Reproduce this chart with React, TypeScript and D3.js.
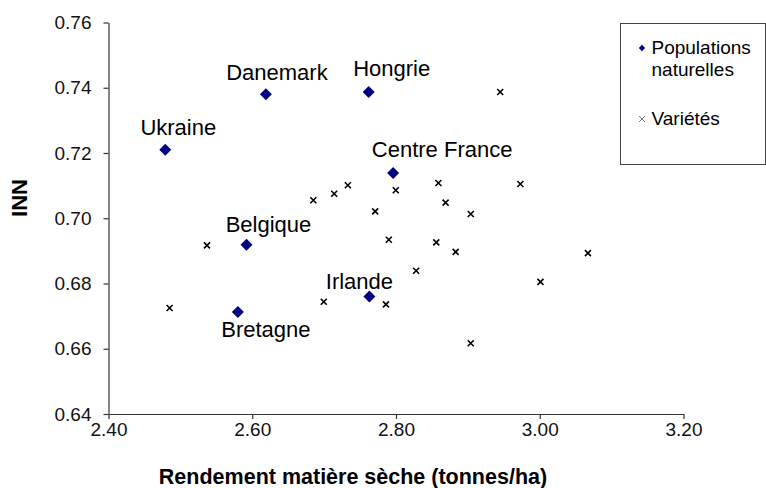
import React, { useEffect, useRef } from 'react';
import * as d3 from 'd3';

// populations naturelles
const popNames = ['Ukraine', 'Danemark', 'Hongrie', 'Centre France', 'Belgique', 'Bretagne', 'Irlande'];
const popRendement = [2.479, 2.619, 2.762, 2.796, 2.592, 2.58, 2.763];
const popINN = [0.721, 0.738, 0.7387, 0.7139, 0.6919, 0.6713, 0.676];

// variétés
const varRendement = [
  2.485, 2.537, 2.685, 2.6995, 2.714, 2.733, 2.771, 2.79, 2.7997, 2.786, 2.828,
  2.856, 2.859, 2.869, 2.883, 2.904, 2.904, 2.945, 2.973, 3.001, 3.067,
];
const varINN = [
  0.6725, 0.6917, 0.7055, 0.6744, 0.7075, 0.7101, 0.7021, 0.6934, 0.7086, 0.6736, 0.6839,
  0.6926, 0.7108, 0.7048, 0.6897, 0.7013, 0.6617, 0.7387, 0.7105, 0.6805, 0.6893,
];

const xTicks = [2.4, 2.6, 2.8, 3.0, 3.2];
const yTicks = [0.64, 0.66, 0.68, 0.7, 0.72, 0.74, 0.76];

const xTitle = 'Rendement matière sèche (tonnes/ha)';
const yTitle = 'INN';
const legendItems = [['Populations', 'naturelles'], ['Variétés']];

// where each label sits relative to its point (px)
const labelOffset: Record<string, [number, number]> = {
  Ukraine: [13, -15],
  Danemark: [11, -14],
  Hongrie: [23, -16],
  'Centre France': [49, -16],
  Belgique: [22, -13],
  Bretagne: [28, 25],
  Irlande: [-10, -8],
};

const FONT = '"Liberation Sans", Arial, sans-serif';
const NAVY = '#000080';

function App() {
  const ref = useRef<SVGSVGElement>(null);

  useEffect(() => {
    const svg = d3.select(ref.current);
    svg.selectAll('*').remove();

    const x = d3.scaleLinear().domain([2.4, 3.2]).range([108.5, 683.5]);
    const y = d3.scaleLinear().domain([0.64, 0.76]).range([414, 22.5]);

    const xAxis = svg
      .append('g')
      .attr('transform', `translate(0,${y(0.64)})`)
      .call(
        d3.axisBottom(x).tickValues(xTicks).tickFormat(d3.format('.2f')).tickSize(5).tickSizeOuter(0).tickPadding(4)
      );
    const yAxis = svg
      .append('g')
      .attr('transform', `translate(${x(2.4)},0)`)
      .call(
        d3.axisLeft(y).tickValues(yTicks).tickFormat(d3.format('.2f')).tickSize(5).tickSizeOuter(0).tickPadding(12)
      );

    [xAxis, yAxis].forEach((g) => {
      g.selectAll('path, line').attr('stroke', '#333').attr('stroke-width', 1.2);
      g.selectAll('text').attr('font-family', FONT).attr('font-size', 19).attr('fill', '#111');
    });

    // varietes
    svg
      .append('g')
      .selectAll('path')
      .data(varRendement)
      .enter()
      .append('path')
      .attr('transform', (d, i) => `translate(${x(d)},${y(varINN[i])})`)
      .attr('d', 'M-3,-3L3,3M-3,3L3,-3')
      .attr('stroke', '#000')
      .attr('stroke-width', 1.6)
      .attr('fill', 'none');

    // populations
    const diamond = d3.symbol(d3.symbolSquare, 72);
    const pops = svg.append('g').selectAll('g').data(popNames).enter().append('g');
    pops
      .append('path')
      .attr('d', diamond)
      .attr('transform', (d, i) => `translate(${x(popRendement[i])},${y(popINN[i])}) rotate(45)`)
      .attr('fill', NAVY);
    pops
      .append('text')
      .attr('x', (d, i) => x(popRendement[i]) + labelOffset[d][0])
      .attr('y', (d, i) => y(popINN[i]) + labelOffset[d][1])
      .attr('text-anchor', 'middle')
      .attr('font-family', FONT)
      .attr('font-size', 22)
      .attr('fill', '#000')
      .text((d) => d);

    // axis titles
    svg
      .append('text')
      .attr('x', 353)
      .attr('y', 484)
      .attr('text-anchor', 'middle')
      .attr('font-family', FONT)
      .attr('font-weight', 'bold')
      .attr('font-size', 21.5)
      .text(xTitle);
    svg
      .append('text')
      .attr('transform', 'translate(27,198) rotate(-90)')
      .attr('text-anchor', 'middle')
      .attr('font-family', FONT)
      .attr('font-weight', 'bold')
      .attr('font-size', 22)
      .text(yTitle);

    // legend
    const legend = svg.append('g');
    legend
      .append('rect')
      .attr('x', 620.5)
      .attr('y', 23.5)
      .attr('width', 145)
      .attr('height', 141)
      .attr('fill', 'white')
      .attr('stroke', '#444')
      .attr('stroke-width', 1);
    legend
      .append('path')
      .attr('d', d3.symbol(d3.symbolSquare, 20))
      .attr('transform', 'translate(642,48) rotate(45)')
      .attr('fill', NAVY);
    legend
      .append('path')
      .attr('d', 'M-3,-3L3,3M-3,3L3,-3')
      .attr('transform', 'translate(642,119)')
      .attr('stroke', '#777')
      .attr('stroke-width', 1);
    const rows = [[54, 76], [125]];
    legendItems.forEach((lines, i) => {
      lines.forEach((t, j) => {
        legend
          .append('text')
          .attr('x', 651.5)
          .attr('y', rows[i][j])
          .attr('font-family', FONT)
          .attr('font-size', 19)
          .attr('fill', '#000')
          .text(t);
      });
    });
  }, []);

  return (
    <svg
      ref={ref}
      width={766}
      height={488}
      style={{ position: 'fixed', left: 0, top: 0, background: 'white' }}
    />
  );
}

export default App;
